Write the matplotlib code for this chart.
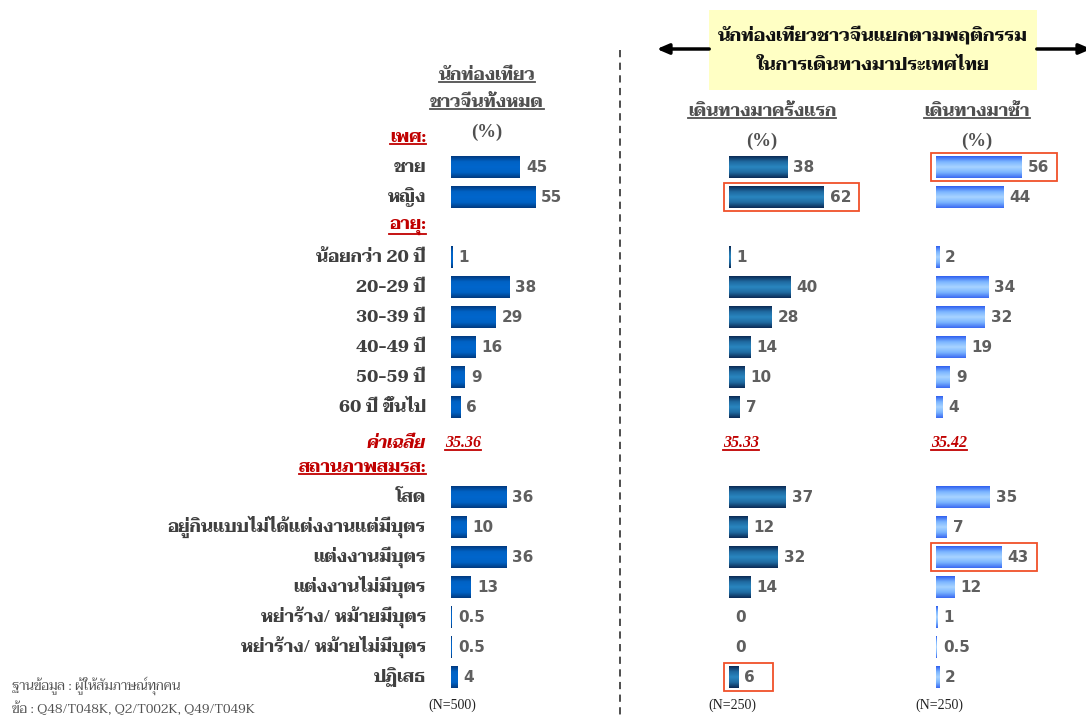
import numpy as np
import matplotlib
matplotlib.use("Agg")
import matplotlib.pyplot as plt
from matplotlib import font_manager
from matplotlib.colors import LinearSegmentedColormap
from matplotlib.patches import Rectangle
from matplotlib.transforms import blended_transform_factory

# ---- data ----
gender_labels = ['ชาย', 'หญิง']
age_labels = ['น้อยกว่า 20 ปี', '20-29 ปี', '30-39 ปี', '40-49 ปี', '50-59 ปี', '60 ปี ขึ้นไป']
marital_labels = ['โสด', 'อยู่กินแบบไม่ได้แต่งงานแต่มีบุตร', 'แต่งงานมีบุตร', 'แต่งงานไม่มีบุตร',
                  'หย่าร้าง/ หม้ายมีบุตร', 'หย่าร้าง/ หม้ายไม่มีบุตร', 'ปฏิเสธ']

total_gender = [45, 55]
total_age = [1, 38, 29, 16, 9, 6]
total_marital = [36, 10, 36, 13, 0.5, 0.5, 4]

first_gender = [38, 62]
first_age = [1, 40, 28, 14, 10, 7]
first_marital = [37, 12, 32, 14, 0, 0, 6]

repeat_gender = [56, 44]
repeat_age = [2, 34, 32, 19, 9, 4]
repeat_marital = [35, 7, 43, 12, 1, 0.5, 2]

mean_age = [35.36, 35.33, 35.42]
n_base = ['(N=500)', '(N=250)', '(N=250)']
col_titles = ['นักท่องเที่ยว\nชาวจีนทั้งหมด', 'เดินทางมาครั้งแรก', 'เดินทางมาซ้ำ']
# highlighted cells: (panel, row)
highlights = [(1, 1), (1, 17), (2, 0), (2, 13)]


def pick_font(cands):
    bold = {f.name for f in font_manager.fontManager.ttflist
            if (f.weight if isinstance(f.weight, int) else 400) >= 600 or f.weight == 'bold'}
    for c in cands:
        if c in bold:
            return c
    return 'DejaVu Sans'


THAI = pick_font(['Taviraj', 'Trirong', 'Noto Serif Thai', 'FreeSerif'])
NUM = 'DejaVu Sans'
SERIF = 'Liberation Serif'

W, H = 1086, 715
fig = plt.figure(figsize=(W / 100, H / 100), dpi=100)
bg = fig.add_axes([0, 0, 1, 1])
bg.set_xlim(0, W)
bg.set_ylim(H, 0)
bg.axis('off')

# row layout: 0-1 gender, 2 age header, 3-8 age, 9 mean, 10 marital header, 11-17 marital
rows_gender = [0, 1]
rows_age = list(range(3, 9))
rows_marital = list(range(11, 18))
row_top, row_step = 167, 30
scale = 1.53  # px per percent
panel_x = [451, 729, 936]

cmaps = [
    LinearSegmentedColormap.from_list('c1', ['#003a80', '#0062c4', '#0066cc', '#0062c4', '#003a80']),
    LinearSegmentedColormap.from_list('c2', ['#0b2a55', '#1f6aa0', '#2a86c0', '#1f6aa0', '#0b2a55']),
    LinearSegmentedColormap.from_list('c3', ['#2f5ff0', '#7ab4ff', '#a8d4ff', '#7ab4ff', '#3a6af2']),
]
mid_colors = ['#0058b4', '#1d6aa2', '#6aa6ff']

panels = [
    (total_gender, total_age, total_marital),
    (first_gender, first_age, first_marital),
    (repeat_gender, repeat_age, repeat_marital),
]

axes = []
y0 = row_top - row_step / 2
y1 = row_top + row_step * 17.5
for p, (g, a, m) in enumerate(panels):
    ax = fig.add_axes([panel_x[p] / W, 1 - y1 / H, 100 * scale / W, (y1 - y0) / H])
    ax.axis('off')
    rows = rows_gender + rows_age + rows_marital
    vals = list(g) + list(a) + list(m)
    bars = ax.barh(rows, vals, height=0.72, color=mid_colors[p], zorder=2)
    grad = np.linspace(0, 1, 64).reshape(-1, 1)
    for b in bars:
        x, y, w, h = b.get_x(), b.get_y(), b.get_width(), b.get_height()
        if w <= 0:
            continue
        im = ax.imshow(grad, extent=[x, x + w, y + h, y], aspect='auto', cmap=cmaps[p],
                       interpolation='bilinear', zorder=3)
        im.set_clip_path(b)
    for r, v in zip(rows, vals):
        ax.text(v + 6 / scale, r, f'{v:g}', va='center', ha='left', fontsize=11,
                fontweight='bold', color='#5f5f5f', family=NUM)
    ax.set_xlim(0, 100)
    ax.set_ylim(17.5, -0.5)
    axes.append(ax)

# highlight boxes
for p, r in highlights:
    ax = axes[p]
    allv = list(panels[p][0]) + [None] + list(panels[p][1]) + [None, None] + list(panels[p][2])
    v = allv[r]
    ax.add_patch(Rectangle((-5 / scale, r - 0.48), v + 40 / scale, 0.96, fill=False,
                           edgecolor='#f0502a', lw=1.3, clip_on=False, zorder=5))

# category labels, right aligned
lab_tr = blended_transform_factory(bg.transData, axes[0].transData)
lab_kw = dict(ha='right', va='center', fontsize=12.5, fontweight='bold', color='#404040',
              family=[THAI, 'DejaVu Sans'], transform=lab_tr)
for r, t in zip(rows_gender, gender_labels):
    bg.text(426, r, t, **lab_kw)
for r, t in zip(rows_age, age_labels):
    bg.text(426, r, t, **lab_kw)
for r, t in zip(rows_marital, marital_labels):
    bg.text(426, r, t, **lab_kw)

underlines = []
hdr_kw = dict(ha='right', va='center', fontsize=12.5, fontweight='bold', color='#c00000',
              family=[THAI, 'DejaVu Sans'], transform=lab_tr)
underlines.append((bg.text(426, -1, 'เพศ:', **hdr_kw), '#c00000'))
underlines.append((bg.text(426, 2, 'อายุ:', **hdr_kw), '#c00000'))
underlines.append((bg.text(426, 10, 'สถานภาพสมรส:', **hdr_kw), '#c00000'))
bg.text(426, 9.2, 'ค่าเฉลี่ย', ha='right', va='center', fontsize=12.5, fontweight='bold',
        style='italic', color='#c00000', family=[THAI, 'DejaVu Sans'], transform=lab_tr)

for p in range(3):
    t = axes[p].text(-6 / scale if p < 2 else -5 / scale, 9.2, f'{mean_age[p]:.2f}', ha='left', va='center',
                     fontsize=11.5, fontweight='bold', style='italic', color='#c00000', family=SERIF)
    underlines.append((t, '#c00000'))

# column headers
hdr_cx = [487, 762, 977]
t = bg.text(hdr_cx[0], 75, 'นักท่องเที่ยว', ha='center', va='center', fontsize=12.5, fontweight='bold',
            color='#505050', family=[THAI, 'DejaVu Sans'])
underlines.append((t, '#505050'))
t = bg.text(hdr_cx[0], 102, 'ชาวจีนทั้งหมด', ha='center', va='center', fontsize=12.5, fontweight='bold',
            color='#505050', family=[THAI, 'DejaVu Sans'])
underlines.append((t, '#505050'))
for p in (1, 2):
    t = bg.text(hdr_cx[p], 111, col_titles[p], ha='center', va='center', fontsize=12.5, fontweight='bold',
                color='#505050', family=[THAI, 'DejaVu Sans'])
    underlines.append((t, '#505050'))
pct_y = [132, 141, 141]
for p in range(3):
    bg.text(hdr_cx[p], pct_y[p], '(%)', ha='center', va='center', fontsize=13.5, fontweight='bold',
            color='#505050', family=SERIF)

# base sizes
n_x = [428, 708, 915]
for p in range(3):
    bg.text(n_x[p], 705, n_base[p], ha='left', va='center', fontsize=10, color='#222222', family=SERIF)

# footnote
bg.text(12, 686, 'ฐานข้อมูล : ผู้ให้สัมภาษณ์ทุกคน', ha='left', va='center', fontsize=9.5,
        color='#505050', family=[THAI, 'DejaVu Sans'])
bg.text(12, 708, 'ข้อ : Q48/T048K, Q2/T002K, Q49/T049K', ha='left', va='center', fontsize=9.5,
        color='#505050', family=[THAI, SERIF])

# dashed divider
bg.plot([620, 620], [50, H], ls=(0, (4, 3)), color='#404040', lw=1.3)

# banner with arrows
bg.add_patch(Rectangle((709, 10), 328, 80, facecolor='#ffffc4', edgecolor='none', zorder=3))
bg.text(873, 35, 'นักท่องเที่ยวชาวจีนแยกตามพฤติกรรม', ha='center', va='center', fontsize=13,
        fontweight='bold', color='#111111', family=[THAI, 'DejaVu Sans'], zorder=4)
bg.text(873, 66, 'ในการเดินทางมาประเทศไทย', ha='center', va='center', fontsize=13,
        fontweight='bold', color='#111111', family=[THAI, 'DejaVu Sans'], zorder=4)
bg.annotate('', xy=(654, 49), xytext=(712, 49), annotation_clip=False,
            arrowprops=dict(arrowstyle='-|>,head_length=0.7,head_width=0.3', color='black', lw=2.5))
bg.annotate('', xy=(1094, 49), xytext=(1034, 49), annotation_clip=False,
            arrowprops=dict(arrowstyle='-|>,head_length=0.7,head_width=0.3', color='black', lw=2.5))

# underlines under texts
fig.canvas.draw()
rend = fig.canvas.get_renderer()
inv = bg.transData.inverted()
for t, c in underlines:
    bb = t.get_window_extent(rend)
    (xa, ya), (xb, yb) = inv.transform([(bb.x0, bb.y0), (bb.x1, bb.y1)])
    bg.plot([xa, xb], [max(ya, yb) - 1, max(ya, yb) - 1], color=c, lw=1.3)

fig.savefig('out.png', dpi=100)
